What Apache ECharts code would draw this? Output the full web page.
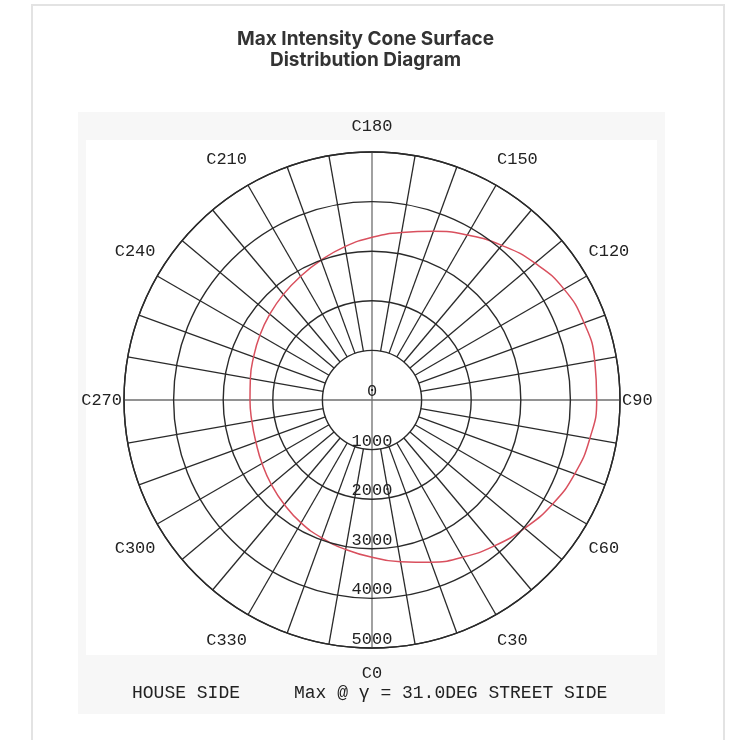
<!DOCTYPE html>
<html>
<head>
<meta charset="utf-8">
<title>Max Intensity Cone Surface Distribution Diagram</title>
<script src="https://cdn.jsdelivr.net/npm/echarts@6/dist/echarts.min.js"></script>
<style>
  html, body { margin: 0; padding: 0; background: #fff; }
  #main { width: 731px; height: 740px; }
</style>
</head>
<body>
<div id="main"></div>
<script>
// C-plane angles (deg) and intensity (cd)
const cAngles = [0, 10, 20, 30, 40, 50, 60, 70, 80, 90, 100, 110, 120, 130, 140, 150, 160, 170, 180,
  190, 200, 210, 220, 230, 240, 250, 260, 270, 280, 290, 300, 310, 320, 330, 340, 350, 360]
const intensity = [3170, 3310, 3480, 3660, 3840, 4020, 4200, 4350, 4460, 4530, 4560, 4550, 4470, 4290, 4070, 3840, 3620, 3430, 3280,
  3140, 3000, 2880, 2780, 2690, 2610, 2540, 2490, 2460, 2460, 2490, 2560, 2650, 2750, 2860, 2960, 3060, 3170]

// grid spokes every 10 deg
const spokeAngles = [0, 10, 20, 30, 40, 50, 60, 70, 80, 90, 100, 110, 120, 130, 140, 150, 160, 170,
  180, 190, 200, 210, 220, 230, 240, 250, 260, 270, 280, 290, 300, 310, 320, 330, 340, 350]
const radiusMax = 5000
const radiusStep = 1000
const innerRing = 1000

const CX = 372
const CY = 400
const R = 248
const mono = 'Liberation Mono, DejaVu Sans Mono, monospace'

var chart = echarts.init(document.getElementById('main'))
var option = {
  backgroundColor: '#fff',
  animation: false,
  title: {
    text: 'Max Intensity Cone Surface\nDistribution Diagram',
    left: 'center',
    top: 24,
    textStyle: {
      fontFamily: 'Inter',
      fontSize: 19,
      fontWeight: 'bold',
      color: '#333',
      lineHeight: 21
    }
  },
  graphic: [
    {
      type: 'rect',
      z: -10,
      shape: { x: 32, y: 5, width: 692, height: 760 },
      style: { fill: '#fff', stroke: '#e3e3e3', lineWidth: 2 }
    },
    {
      type: 'rect',
      z: -9,
      shape: { x: 78, y: 112, width: 587, height: 602 },
      style: { fill: '#f7f7f7' }
    },
    {
      type: 'rect',
      z: -8,
      shape: { x: 86, y: 140, width: 571, height: 515 },
      style: { fill: '#fff' }
    },
    {
      type: 'text',
      left: 132,
      top: 684,
      style: { text: 'HOUSE SIDE', font: '18px ' + mono, fill: '#222' }
    },
    {
      type: 'text',
      left: 294,
      top: 684,
      style: { text: 'Max @ γ = 31.0DEG STREET SIDE', font: '18px ' + mono, fill: '#222' }
    }
  ],
  polar: {
    center: [CX, CY],
    radius: R
  },
  angleAxis: {
    type: 'value',
    min: 0,
    max: 360,
    interval: 30,
    startAngle: 270,
    clockwise: false,
    axisLine: { show: true, lineStyle: { color: '#2a2a2a', width: 1.4 } },
    axisTick: { show: false },
    splitLine: { show: false },
    axisLabel: {
      margin: 2,
      padding: [15, 0, 15, 0],
      fontFamily: mono,
      fontSize: 17,
      color: '#222',
      formatter: function (v) {
        return v === 360 ? '' : 'C' + v
      }
    }
  },
  radiusAxis: {
    type: 'value',
    min: 0,
    max: radiusMax,
    interval: radiusStep,
    axisLine: { show: false },
    axisTick: { show: false },
    splitLine: { show: true, lineStyle: { color: '#2a2a2a', width: 1.4 } },
    axisLabel: {
      margin: 0,
      align: 'center',
      verticalAlign: 'bottom',
      fontFamily: mono,
      fontSize: 17,
      color: '#222',
      formatter: function (v) {
        return String(v)
      }
    },
    z: 5
  },
  series: [
    {
      type: 'custom',
      coordinateSystem: 'polar',
      silent: true,
      z: 1,
      data: spokeAngles.map((a) => [radiusMax, a]),
      renderItem: function (params, api) {
        var angle = api.value(1)
        var main = angle % 90 === 0
        var p0 = api.coord([main ? 0 : innerRing, angle])
        var p1 = api.coord([radiusMax, angle])
        return {
          type: 'line',
          shape: { x1: p0[0], y1: p0[1], x2: p1[0], y2: p1[1] },
          style: { stroke: main ? '#6e6e6e' : '#2a2a2a', lineWidth: 1.3 }
        }
      }
    },
    {
      name: 'Intensity',
      type: 'line',
      coordinateSystem: 'polar',
      z: 3,
      smooth: true,
      showSymbol: false,
      lineStyle: { color: '#d9505e', width: 1.5 },
      data: cAngles.map((a, i) => [intensity[i], a])
    }
  ]
}
chart.setOption(option)
</script>
</body>
</html>
